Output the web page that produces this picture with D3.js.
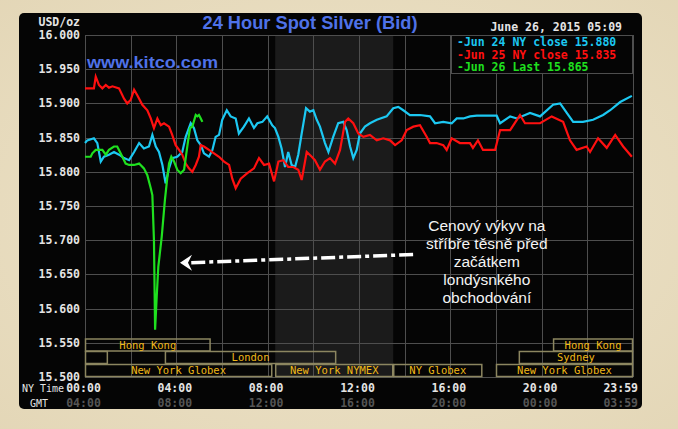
<!DOCTYPE html>
<html><head><meta charset="utf-8">
<script src="https://cdn.jsdelivr.net/npm/d3@7"></script>
<style>html,body{margin:0;padding:0;background:#e9dec3;}svg{display:block;}</style>
</head><body>
<script>
// ---------- DATA ----------
const jun24Hours = [0,0.10,0.39,0.54,0.69,0.83,1.05,1.27,1.49,1.71,1.93,2.15,2.37,2.58,2.80,2.95,3.10,3.24,3.39,3.53,3.68,3.82,4.04,4.26,4.41,4.63,4.77,4.92,5.07,5.21,5.43,5.58,5.72,5.87,6.01,6.21,6.38,6.60,6.74,6.96,7.18,7.40,7.55,7.77,7.98,8.20,8.32,8.47,8.61,8.76,8.90,9.05,9.20,9.34,9.49,9.68,9.85,10.00,10.15,10.29,10.51,10.66,10.87,11.09,11.31,11.46,11.61,11.75,11.90,12.04,12.26,12.48,12.78,13.21,13.50,13.72,13.94,14.23,14.67,15.11,15.33,15.69,16.06,16.28,16.57,16.86,17.16,18.03,18.18,18.62,18.91,19.49,19.93,20.50,20.81,21.10,21.38,21.81,22.25,22.69,23.00,23.44,23.95];
const jun24Values = [15.842,15.846,15.849,15.842,15.815,15.822,15.825,15.829,15.825,15.820,15.817,15.829,15.842,15.834,15.837,15.854,15.837,15.829,15.810,15.783,15.805,15.820,15.822,15.829,15.851,15.871,15.864,15.846,15.839,15.827,15.822,15.832,15.851,15.854,15.876,15.890,15.881,15.878,15.856,15.866,15.878,15.864,15.871,15.873,15.881,15.868,15.864,15.851,15.834,15.807,15.829,15.810,15.807,15.825,15.856,15.893,15.888,15.890,15.876,15.866,15.842,15.829,15.851,15.871,15.873,15.861,15.837,15.820,15.832,15.856,15.866,15.871,15.876,15.881,15.893,15.895,15.890,15.883,15.883,15.881,15.871,15.873,15.871,15.878,15.878,15.881,15.882,15.882,15.871,15.881,15.878,15.886,15.881,15.898,15.900,15.886,15.873,15.873,15.876,15.883,15.890,15.902,15.911];

const jun25Hours = [0,0.39,0.47,0.61,0.76,0.91,1.05,1.20,1.49,1.71,1.85,2.00,2.15,2.29,2.51,2.73,2.88,3.02,3.17,3.32,3.46,3.68,3.82,3.97,4.12,4.26,4.41,4.55,4.70,4.85,4.99,5.07,5.21,5.43,5.65,5.87,6.09,6.31,6.45,6.60,6.82,7.11,7.40,7.62,7.84,8.06,8.28,8.47,8.68,8.90,9.12,9.34,9.49,9.71,9.93,10.07,10.29,10.51,10.73,10.95,11.17,11.39,11.53,11.75,11.97,12.19,12.48,12.78,13.06,13.36,13.58,13.87,14.09,14.38,14.67,14.97,15.11,15.40,15.69,15.84,16.06,16.42,16.86,16.99,17.21,17.43,17.96,18.18,18.62,19.05,19.27,19.93,20.44,20.94,21.24,21.53,21.97,22.12,22.47,22.85,23.22,23.57,23.95];
const jun25Values = [15.922,15.922,15.939,15.927,15.922,15.927,15.923,15.925,15.922,15.907,15.900,15.905,15.920,15.912,15.898,15.890,15.878,15.864,15.878,15.868,15.871,15.866,15.854,15.839,15.832,15.825,15.812,15.805,15.800,15.810,15.822,15.839,15.837,15.832,15.827,15.822,15.815,15.810,15.790,15.776,15.790,15.798,15.805,15.820,15.810,15.812,15.786,15.815,15.817,15.807,15.807,15.803,15.788,15.829,15.822,15.817,15.803,15.815,15.820,15.812,15.832,15.873,15.878,15.871,15.856,15.851,15.854,15.846,15.849,15.846,15.839,15.846,15.861,15.866,15.868,15.851,15.842,15.842,15.839,15.832,15.849,15.842,15.842,15.835,15.846,15.832,15.832,15.861,15.861,15.883,15.871,15.871,15.881,15.873,15.846,15.832,15.837,15.829,15.849,15.835,15.854,15.837,15.822];

const jun26Hours = [0,0.25,0.32,0.47,0.76,0.91,1.05,1.27,1.41,1.56,1.78,1.93,2.15,2.37,2.58,2.73,2.88,2.95,3.02,3.07,3.14,3.21,3.36,3.50,3.60,3.68,3.78,3.90,4.04,4.19,4.34,4.41,4.51,4.60,4.70,4.85,4.92,4.99,5.07,5.14];
const jun26Values = [15.822,15.822,15.827,15.832,15.832,15.825,15.832,15.837,15.837,15.827,15.812,15.810,15.810,15.812,15.805,15.795,15.776,15.766,15.700,15.569,15.617,15.661,15.705,15.759,15.790,15.812,15.822,15.815,15.803,15.798,15.803,15.820,15.844,15.864,15.866,15.883,15.881,15.883,15.878,15.873];

const seriesNames = ["Jun 24 NY close 15.880","Jun 25 NY close 15.835","Jun 26 Last 15.865"];
const seriesColors = ["#1cc8f2","#ff1010","#1fe01f"];

const yTicks = [15.5,15.55,15.6,15.65,15.7,15.75,15.8,15.85,15.9,15.95,16.0];
const yTickLabels = ["15.500","15.550","15.600","15.650","15.700","15.750","15.800","15.850","15.900","15.950","16.000"];
const xTicks = [0,4,8,12,16,20,24];
const nyLabels = ["00:00","04:00","08:00","12:00","16:00","20:00","23:59"];
const gmtLabels = ["04:00","08:00","12:00","16:00","20:00","00:00","03:59"];

const sessionNames = ["Hong Kong","","London","New York Globex","New York NYMEX","NY Globex","New York Globex","Sydney","Hong Kong"];
const sessionStart = [0,0,3.5,0,8.33,13.5,18,19,20.5];
const sessionEnd   = [5.5,1,11,8.2,13.5,17.4,24,24,24];
const sessionRow   = [0,1,1,2,2,2,2,1,0];

const nymexShade = [8.33,13.5];
const annotationLines = ["Cenový výkyv na","stříbře těsně před","začátkem","londýsnkého","obchodování"];
const arrowFrom = [14.37,15.679];
const arrowTo = [4.16,15.667];
const annotationAnchor = [17.6,15.713];

// ---------- DRAW ----------
const W=678,H=429;
const svg=d3.select("body").append("svg").attr("width",W).attr("height",H);
const defs=svg.append("defs");
const rg=defs.append("radialGradient").attr("id","paper").attr("cx","50%").attr("cy","50%").attr("r","75%");
rg.append("stop").attr("offset","0%").attr("stop-color","#efe5cc");
rg.append("stop").attr("offset","100%").attr("stop-color","#e3d6b6");
svg.append("rect").attr("width",W).attr("height",H).attr("fill","url(#paper)");
svg.append("rect").attr("x",19).attr("y",13).attr("width",623).attr("height",396).attr("rx",5).attr("fill","#050505");

const x=d3.scaleLinear().domain([0,24]).range([85,633]);
const y=d3.scaleLinear().domain([15.5,16]).range([377,35]);
const mono="'DejaVu Sans Mono', monospace";

// shade
svg.append("rect").attr("x",x(nymexShade[0])).attr("y",y(16)).attr("width",x(nymexShade[1])-x(nymexShade[0])).attr("height",y(15.5)-y(16)).attr("fill","#1b1b1b");

// grid
const g=svg.append("g").attr("stroke","#4e4e4e").attr("stroke-width",1);
d3.range(0,25,2).forEach(h=>g.append("line").attr("x1",Math.round(x(h))+0.5).attr("x2",Math.round(x(h))+0.5).attr("y1",y(16)).attr("y2",y(15.5)));
yTicks.forEach(v=>g.append("line").attr("x1",x(0)).attr("x2",x(24)).attr("y1",Math.round(y(v))+0.5).attr("y2",Math.round(y(v))+0.5));

// y labels
svg.append("g").selectAll("text").data(yTicks).join("text")
 .attr("x",80).attr("y",d=>y(d)+4).attr("text-anchor","end")
 .attr("font-family",mono).attr("font-weight","bold").attr("font-size",11.5).attr("fill","#e4e4e4")
 .text((d,i)=>yTickLabels[i]);
svg.append("text").attr("x",80).attr("y",26).attr("text-anchor","end").attr("font-family",mono).attr("font-weight","bold").attr("font-size",11.5).attr("fill","#e4e4e4").text("USD/oz");

// x labels
svg.append("g").selectAll("text").data(xTicks).join("text")
 .attr("x",d=>d===24?638:x(d)-1.5).attr("y",392).attr("text-anchor",d=>d===24?"end":"middle")
 .attr("font-family",mono).attr("font-weight","bold").attr("font-size",11.5).attr("fill","#e4e4e4")
 .text((d,i)=>nyLabels[i]);
svg.append("g").selectAll("text").data(xTicks).join("text")
 .attr("x",d=>d===24?638:x(d)-1.5).attr("y",407).attr("text-anchor",d=>d===24?"end":"middle")
 .attr("font-family",mono).attr("font-weight","bold").attr("font-size",11.5).attr("fill","#555")
 .text((d,i)=>gmtLabels[i]);
svg.append("text").attr("x",43).attr("y",392).attr("text-anchor","middle").attr("font-family",mono).attr("font-size",10).attr("fill","#e4e4e4").text("NY Time");
svg.append("text").attr("x",39).attr("y",407).attr("text-anchor","middle").attr("font-family",mono).attr("font-size",10).attr("fill","#e4e4e4").text("GMT");

// sessions
const rowTop=[339,351.5,364.5], rowH=12;
const sg=svg.append("g");
sessionNames.forEach((n,i)=>{
  const x0=x(sessionStart[i]), x1=x(sessionEnd[i]), t=rowTop[sessionRow[i]];
  sg.append("rect").attr("x",x0+0.5).attr("y",t).attr("width",x1-x0-1).attr("height",rowH).attr("fill","none").attr("stroke","#8c8660").attr("stroke-width",1.5);
  if(n) sg.append("text").attr("x",(x0+x1)/2).attr("y",t+9.5).attr("text-anchor","middle").attr("font-family",mono).attr("font-size",10.5).attr("fill","#f0b818").text(n);
});

// lines
const line=d3.line().x(d=>x(d[0])).y(d=>y(d[1]));
const sets=[[jun24Hours,jun24Values],[jun25Hours,jun25Values],[jun26Hours,jun26Values]];
sets.forEach((s,i)=>{
  const pts=s[0].map((h,j)=>[h,s[1][j]]);
  svg.append("path").datum(pts).attr("d",line).attr("fill","none").attr("stroke",seriesColors[i]).attr("stroke-width",2.2).attr("stroke-linejoin","miter");
});

// legend box
svg.append("rect").attr("x",451.5).attr("y",35.5).attr("width",181).attr("height",38).attr("fill","#050505").attr("stroke","#4e4e4e");
seriesNames.forEach((n,i)=>{
  svg.append("text").attr("x",457).attr("y",46+i*12.5).attr("font-family",mono).attr("font-weight","bold").attr("font-size",11.5).attr("fill",seriesColors[i]).text("-"+n);
});

// titles
svg.append("text").attr("x",310).attr("y",29).attr("text-anchor","middle").attr("font-family","'Liberation Sans', Arial, sans-serif").attr("font-weight","bold").attr("font-size",18).attr("fill","#4f72e8").attr("textLength",215).attr("lengthAdjust","spacingAndGlyphs").text("24 Hour Spot Silver (Bid)");
svg.append("text").attr("x",622).attr("y",31).attr("text-anchor","end").attr("font-family",mono).attr("font-weight","bold").attr("font-size",11.5).attr("fill","#e4e4e4").text("June 26, 2015 05:09");
svg.append("text").attr("x",87).attr("y",68).attr("font-family","'Liberation Sans', Arial, sans-serif").attr("font-weight","bold").attr("font-size",17).attr("fill","#4f72e8").attr("textLength",131).attr("lengthAdjust","spacingAndGlyphs").text("www.kitco.com");

// annotation arrow
const ax0=x(arrowFrom[0]), ay0=y(arrowFrom[1]), ax1=x(arrowTo[0])+8, ay1=y(arrowTo[1]);
svg.append("line").attr("x1",ax0).attr("y1",ay0).attr("x2",ax1).attr("y2",ay1).attr("stroke","#fff").attr("stroke-width",3.5).attr("stroke-dasharray","14,4,4,4");
const tx=x(arrowTo[0]), ty=y(arrowTo[1]);
svg.append("path").attr("d",`M${tx},${ty} L${tx+12},${ty-8} L${tx+8},${ty} L${tx+12},${ty+8} Z`).attr("fill","#fff");

const at=svg.append("text").attr("text-anchor","middle").attr("font-family","'Liberation Sans', Arial, sans-serif").attr("font-size",15.5).attr("fill","#f4f4f4");
annotationLines.forEach((l,i)=>at.append("tspan").attr("x",x(annotationAnchor[0])).attr("y",y(annotationAnchor[1])+i*18).text(l));
</script>
</body></html>
